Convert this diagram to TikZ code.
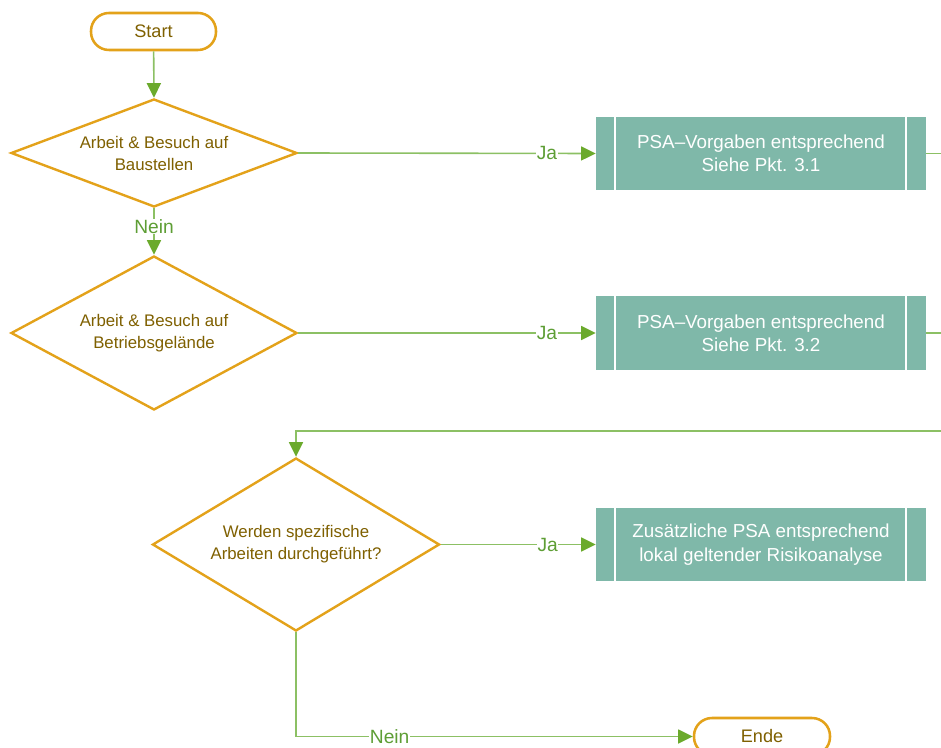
\documentclass[tikz,border=0pt]{standalone}
\usepackage{fontspec}
\setmainfont{Liberation Sans}
\usetikzlibrary{shapes.geometric,arrows.meta}
\definecolor{orng}{RGB}{227,162,26}
\definecolor{brwn}{RGB}{127,96,0}
\definecolor{gline}{RGB}{140,192,100}
\definecolor{gtip}{RGB}{107,170,44}
\definecolor{glbl}{RGB}{94,158,53}
\definecolor{teal}{RGB}{127,184,169}
\tikzset{
  term/.style={draw=orng, line width=1.9pt, rounded corners=13.5pt, fill=white,
    text=brwn, font=\fontsize{13.6}{15}\selectfont, inner sep=0pt},
  decis/.style={diamond, draw=orng, line width=1.8pt, fill=white, text=brwn,
    font=\fontsize{12.6}{16.5}\selectfont, inner sep=0pt, align=center},
  procbox/.style={fill=teal, draw=none, text=white, minimum width=247.5pt,
    minimum height=54.75pt, inner sep=0pt, align=center,
    font=\fontsize{14.1}{17.5}\selectfont},
  conn/.style={draw=gline, line width=1.2pt, -{Triangle[length=11pt,width=10.5pt,color=gtip,fill=gtip]}},
  plain/.style={draw=gline, line width=1.2pt},
  lbl/.style={fill=white, text=glbl, inner sep=0.5pt, font=\fontsize{14.4}{16}\selectfont}
}
\begin{document}
\begin{tikzpicture}[x=0.75pt, y=-0.75pt]
\useasboundingbox (0,0) rectangle (941,748);
% terminals
\node[term, minimum width=93.75pt, minimum height=27.75pt] (start) at (153.5,31.5) {Start};
\node[term, minimum width=102pt, minimum height=27.75pt] (ende) at (762,736.5) {Ende};
% decisions
\node[decis, minimum width=214.5pt, minimum height=81pt, shape aspect=2.65] (d1) at (154,153) {Arbeit \& Besuch auf\\Baustellen};
\node[decis, minimum width=214.5pt, minimum height=115.5pt, shape aspect=1.86] (d2) at (154,333) {Arbeit \& Besuch auf\\Betriebsgelände};
\node[decis, minimum width=215.25pt, minimum height=129.75pt, shape aspect=1.66] (d3) at (296,544.5) {Werden spezifische\\Arbeiten durchgeführt?};
% process boxes
\node[procbox] (b1) at (761,153.5) {PSA–Vorgaben entsprechend\\Siehe Pkt. 3.1};
\node[procbox] (b2) at (761,333) {PSA–Vorgaben entsprechend\\Siehe Pkt. 3.2};
\node[procbox] (b3) at (761,544.5) {Zusätzliche PSA entsprechend\\lokal geltender Risikoanalyse};
\foreach \b in {b1,b2,b3}{
  \draw[white, line width=1.5pt] ([xshift=14.25pt]\b.north west) -- ([xshift=14.25pt]\b.south west);
  \draw[white, line width=1.5pt] ([xshift=-15pt]\b.north east) -- ([xshift=-15pt]\b.south east);
}
% free ends
\coordinate (e1) at (941,153.5);
\coordinate (e2) at (941,333);
\coordinate (r) at (941,431);
% connectors
\draw[conn] (start) -- (d1.north);
\draw[conn] (d1.south) -- node[lbl, pos=0.39] {Nein} (d2.north);
\draw[conn] (d1.east) -- node[lbl, pos=0.836] {Ja} (b1.west);
\draw[conn] (d2.east) -- node[lbl, pos=0.836] {Ja} (b2.west);
\draw[plain] (b1.east) -- (e1);
\draw[plain] (b2.east) -- (e2);
\draw[conn] (r) -| (d3.north);
\draw[conn] (d3.east) -- node[lbl, pos=0.69] {Ja} (b3.west);
\draw[conn] (d3.south) |- node[lbl, pos=0.618] {Nein} (ende.west);
\end{tikzpicture}
\end{document}
